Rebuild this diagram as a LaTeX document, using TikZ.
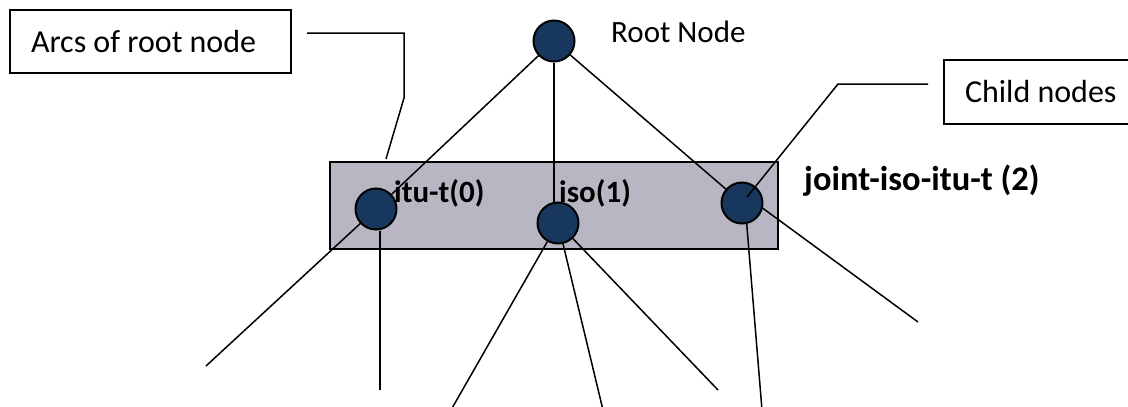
\documentclass[tikz,border=0pt]{standalone}
\usepackage{fontspec}
\setmainfont{Carlito}
\usetikzlibrary{calc}
\definecolor{navy}{HTML}{17375E}
\definecolor{bandgray}{HTML}{B9B6C3}
\pgfdeclarelayer{bg}
\pgfdeclarelayer{lines}
\pgfsetlayers{bg,lines,main}
\begin{document}
\begin{tikzpicture}[x=1pt,y=-1pt,
  conn/.style={line width=1.5pt},
  dot/.style={circle, draw, line width=2pt, fill=navy, minimum size=41pt, inner sep=0pt},
  callbox/.style={draw, line width=2pt, inner xsep=21pt, inner ysep=0pt, minimum height=63pt,
    anchor=west, font=\fontsize{32}{38}\selectfont},
  lab/.style={inner sep=0pt, anchor=base west, font=\fontsize{31}{37}\selectfont},
  blab/.style={inner sep=0pt, anchor=base west, font=\fontsize{31}{37}\selectfont\bfseries}]
\useasboundingbox (0,0) rectangle (1128,407);
\clip (0,0) rectangle (1128,407);

% nodes
\node[dot] (root) at (554,41) {};
\node[dot] (itu) at (376,209) {};
\node[dot] (iso) at (558,223) {};
\node[dot] (joint) at (742,203) {};

\begin{pgfonlayer}{bg}
\node[draw, line width=2pt, fill=bandgray, minimum width=448pt, minimum height=87pt, inner sep=0pt] (band) at (554,205.5) {};
\end{pgfonlayer}

% free ends
\coordinate (e1) at (206,366);
\coordinate (e2) at (380,390);
\coordinate (e3) at (451,410);
\coordinate (e4) at (603,410);
\coordinate (e5) at (718,390);
\coordinate (e6) at (762,410);
\coordinate (e7) at (918,322);

\begin{pgfonlayer}{lines}
\draw[conn] (root) -- (itu);
\draw[conn] (root) -- (root |- iso.north);
\draw[conn] (root) -- (joint);
\draw[conn] (itu) -- (e1);
\draw[conn] (e2 |- itu.south) -- (e2);
\draw[conn] (iso) -- (e3);
\draw[conn] (iso) -- (e4);
\draw[conn] (iso) -- (e5);
\draw[conn] ($(joint)+(3,0)$) -- (e6);
\draw[conn] ($(joint)+(0,-10)$) -- (e7);
\end{pgfonlayer}

% labels
\node[lab] (rootlab) at (611,42) {Root Node};
\node[blab] (itulab) at (394,202) {itu-t(0)};
\node[blab] (isolab) at (559,202) {iso(1)};
\node[blab, font=\fontsize{34.5}{40}\selectfont\bfseries] (jointlab) at (804,190) {joint-iso-itu-t (2)};

% callout boxes
\node[callbox] (arcs) at (9,41.5) {\makebox[239pt][l]{Arcs of root node}};
\node[callbox, minimum height=64pt] (child) at (943,92) {\makebox[180pt][l]{Child nodes}};

\coordinate (a1) at (404,98);
\coordinate (c1) at (386,159);
\draw[conn] ($(arcs.east)+(15,-8.5)$) -| (a1) -- (c1);

\coordinate (b1) at (838,84);
\draw[conn] ($(child.west)+(-15,-8)$) -- (b1) -- ($(joint)+(5,-6)$);
\end{tikzpicture}
\end{document}
